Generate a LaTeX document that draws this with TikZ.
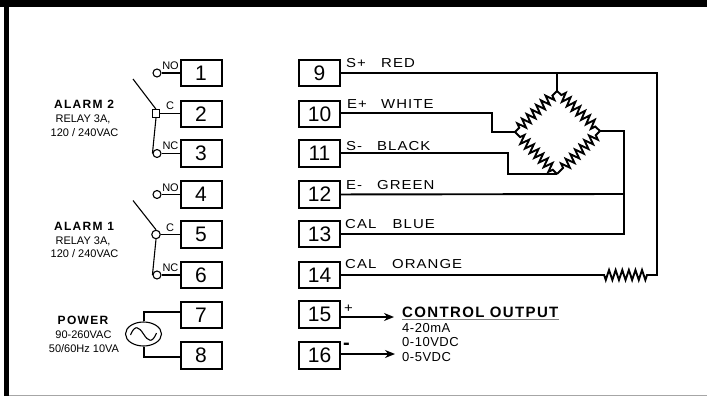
\documentclass[tikz,border=0pt]{standalone}
\usepackage{fontspec}
\setmainfont{Liberation Sans}
\newfontfamily\wirefont[LetterSpace=8,FakeStretch=1.15]{Liberation Sans}
\newfontfamily\outfont[LetterSpace=4]{Liberation Sans}
\newfontfamily\titlefont[LetterSpace=11]{Liberation Sans Bold}
\newfontfamily\ctrlfont[LetterSpace=9]{Liberation Sans Bold}
\usetikzlibrary{shapes,positioning,arrows.meta,decorations.pathmorphing}
\tikzset{term/.style={rectangle,draw,line width=2pt,minimum width=41pt,minimum height=26.5pt,inner sep=0pt,font=\fontsize{21}{21}\selectfont},
  wire/.style={line width=1.9pt},
  thinwire/.style={line width=1.1pt},
  contact/.style={circle,draw,line width=1.1pt,minimum size=8pt,inner sep=0pt},
  common/.style={rectangle,draw,line width=1.1pt,minimum size=7.5pt,inner sep=0pt},
  pin/.style={anchor=base,inner sep=0pt,font=\fontsize{11}{11}\selectfont},
  wirelab/.style={anchor=base west,inner sep=0pt,font=\wirefont\fontsize{13}{13}\selectfont},
  title/.style={anchor=base,inner sep=0pt,font=\titlefont\fontsize{12}{12}\selectfont},
  sub/.style={anchor=base,inner sep=0pt,font=\fontsize{11}{11}\selectfont},
  outlab/.style={anchor=base west,inner sep=0pt,font=\outfont\fontsize{13}{13}\selectfont},
  zig/.style={decorate,decoration={zigzag,segment length=6.6pt,amplitude=4.6pt,pre length=6pt,post length=6pt}}}

\begin{document}
\begin{tikzpicture}[>={Stealth[length=10pt,width=8pt]},x=1pt,y=-1pt]
    \useasboundingbox (0,0) rectangle (707,396);

    % frame
    \fill[black] (0,0) rectangle (707,7.5);
    \fill[black] (4,0) rectangle (9,396);
    \draw[gray!70,line width=1.2pt] (9,395.3) -- (707,395.3);

    % terminals
    \node[term] (t1) at (201,73) {1};
    \node[term] (t2) at (201,114) {2};
    \node[term] (t3) at (201,153.5) {3};
    \node[term] (t4) at (201,194.5) {4};
    \node[term] (t5) at (201,234.5) {5};
    \node[term] (t6) at (201,275) {6};
    \node[term] (t7) at (201,315) {7};
    \node[term] (t8) at (201,355.5) {8};
    \node[term] (t9) at (319.5,73) {9};
    \node[term] (t10) at (319.5,114) {10};
    \node[term] (t11) at (319.5,153.5) {11};
    \node[term] (t12) at (319.5,194.5) {12};
    \node[term] (t13) at (319.5,234) {13};
    \node[term] (t14) at (319.5,275) {14};
    \node[term] (t15) at (319.5,314.5) {15};
    \node[term] (t16) at (319.5,355.5) {16};

    % relays
    \node[contact] (no2) at (157,73) {};
    \node[common] (c2) at (156,113.5) {};
    \node[contact] (nc2) at (157,153.5) {};
    \coordinate (arm2) at (133,79);
    \node[contact] (no1) at (157,194.5) {};
    \node[contact,minimum size=8.5pt] (c1) at (156,234.5) {};
    \node[contact] (nc1) at (157,275) {};
    \coordinate (arm1) at (133,200.5);

    \draw [thinwire] (no2) to [] (t1);
    \draw [thinwire] (c2) to [] (t2.west |- c2);
    \draw [thinwire] (nc2) to [] (t3);
    \draw [thinwire] (arm2) to [] (c2.north);
    \draw [thinwire] (c2.south) to [] (nc2.west);
    \draw [thinwire] (no1) to [] (t4);
    \draw [thinwire] (c1) to [] (t5);
    \draw [thinwire] (nc1) to [] (t6);
    \draw [thinwire] (arm1) to [] (c1.north);
    \draw [thinwire] (c1.south) to [] (nc1.west);

    \node[pin] (no2lab) at (170.5,70) {NO};
    \node[pin] (c2lab) at (170,110) {C};
    \node[pin] (nc2lab) at (170.5,149.5) {NC};
    \node[pin] (no1lab) at (170.5,191.5) {NO};
    \node[pin] (c1lab) at (170,231.5) {C};
    \node[pin] (nc1lab) at (170.5,271) {NC};

    \node[title] (alarm2) at (84,108) {ALARM 2};
    \node[sub] (relay2) at (83,122) {RELAY 3A,};
    \node[sub] (volt2) at (84.5,136) {120 / 240VAC};
    \node[title] (alarm1) at (84,230) {ALARM 1};
    \node[sub] (relay1) at (83,244) {RELAY 3A,};
    \node[sub] (volt1) at (84.5,257.5) {120 / 240VAC};

    % power
    \node[ellipse,draw,line width=1.1pt,minimum width=36pt,minimum height=24pt,inner sep=0pt] (ac) at (143.5,334) {};
    \coordinate (ac7) at (144,312);
    \coordinate (ac8) at (144,357);
    \draw [thinwire] (ac.north -| ac7) to [] (ac7) to [] (t7.west |- ac7);
    \draw [thinwire] (ac.south -| ac8) to [] (ac8) to [] (t8.west |- ac8);
    \draw [thinwire] (130.5,335) .. controls (135,324) and (139,327) .. (143.5,334) .. controls (148,341) and (152,344) .. (156.5,333);
    \node[title] (power) at (83,324) {POWER};
    \node[sub] (range) at (83.5,338) {90-260VAC};
    \node[sub] (rating) at (84,352) {50/60Hz 10VA};

    % bridge
    \coordinate (bt) at (557,91);
    \coordinate (bl) at (515,132);
    \coordinate (br) at (600,131);
    \coordinate (bb) at (557,174);
    \draw [wire,zig] (bt) to [] (br);
    \draw [wire,zig] (br) to [] (bb);
    \draw [wire,zig] (bb) to [] (bl);
    \draw [wire,zig] (bl) to [] (bt);

    \coordinate (e9) at (657,73);
    \coordinate (e14) at (657,275);
    \coordinate (rs) at (600,275);
    \coordinate (re) at (650,275);
    \coordinate (k10a) at (492,113);
    \coordinate (k10b) at (492,132);
    \coordinate (k11a) at (508,153);
    \coordinate (k11b) at (508,174);
    \coordinate (e12) at (624,194);
    \coordinate (e13) at (624,234);
    \coordinate (er) at (624,131);

    \draw [wire] (t9) to [] (e9) to [] (e14) to [] (re);
    \draw [wire,zig,decoration={segment length=6.6pt,amplitude=5pt,pre length=3pt,post length=3pt}] (re) to [] (rs);
    \draw [wire] (rs) to [] (t14);
    \draw [wire] (bt |- e9) to [] (bt);
    \draw [wire] (t10.east |- k10a) -- (k10a) -- (k10b) -- (bl);
    \draw [wire] (t11.east |- k11a) -- (k11a) -- (k11b) -- (bb);
    \draw [wire] (t12) to [] (e12);
    \draw [wire] (br) -- (er) -- (e13) -- (t13.east |- e13);

    % output
    \coordinate (out15) at (394,317);
    \coordinate (out16) at (395,354);
    \draw [wire,->] (t15.east |- out15) to [] (out15);
    \draw [wire,->] (t16.east |- out16) to [] (out16);

    % wire labels
    \node[wirelab] (splus) at (346,68) {S+};
    \node[wirelab] (red) at (381,68) {RED};
    \node[wirelab] (eplus) at (347,108) {E+};
    \node[wirelab] (white) at (381,108) {WHITE};
    \node[wirelab] (sminus) at (346,150) {S-};
    \node[wirelab] (black) at (377,150) {BLACK};
    \node[wirelab] (eminus) at (346,189) {E-};
    \node[wirelab] (green) at (377,189) {GREEN};
    \node[wirelab] (cal13) at (345,228) {CAL};
    \node[wirelab] (blue) at (392.5,228) {BLUE};
    \node[wirelab] (cal14) at (345,268) {CAL};
    \node[wirelab] (orange) at (392,268) {ORANGE};
    \node[wirelab] (plus) at (344,312) {+};
    \node[wirelab,font=\ctrlfont\fontsize{20}{20}\selectfont] (minus) at (343,349.5) {-};

    \node[anchor=base west,inner sep=0pt,font=\ctrlfont\fontsize{15}{15}\selectfont] (ctrl) at (402,317) {CONTROL OUTPUT};
    \draw[gray,line width=0.8pt] (ctrl.base west) ++(0,2) -- ++(157,0);
    \node[outlab] (ma) at (402,332) {4-20mA};
    \node[outlab] (vten) at (402,346) {0-10VDC};
    \node[outlab] (vfive) at (402,361) {0-5VDC};
\end{tikzpicture}
\end{document}
